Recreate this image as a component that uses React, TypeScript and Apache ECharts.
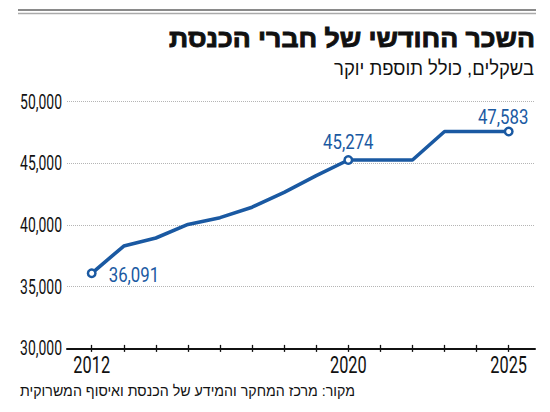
import React, { useEffect, useRef } from "react";
import * as echarts from "echarts";

const years = [2012, 2013, 2014, 2015, 2016, 2017, 2018, 2019, 2020, 2021, 2022, 2023, 2024, 2025];
const salaries = [36091, 38300, 38950, 40050, 40600, 41450, 42650, 44000, 45274, 45274, 45274, 47583, 47583, 47583];
const highlightYears = [2012, 2020, 2025];
const xLabelYears = [2012, 2020, 2025];
const yTicks = [30000, 35000, 40000, 45000, 50000];

const title = "השכר החודשי של חברי הכנסת";
const subtitle = "בשקלים, כולל תוספת יוקר";
const source = "מקור: מרכז המחקר והמידע של הכנסת ואיסוף המשרוקית";

const BLUE = "#1a59a2";
const DIGITS = "Roboto, 'Liberation Sans', sans-serif";
const HEB = "'Liberation Sans', 'DejaVu Sans', sans-serif";
const X_MIN = 2011.23;
const X_MAX = 2025.82;

const fmt = (v: number) => v.toLocaleString("en-US");

export default function App() {
  const ref = useRef<HTMLDivElement>(null);
  useEffect(() => {
    if (!ref.current) return;
    document.body.style.margin = "0";
    const chart = echarts.init(ref.current, undefined, { renderer: "svg" });
    const ctx = document.createElement("canvas").getContext("2d")!;
    const measure = (text: string, font: string) => {
      ctx.font = font;
      return ctx.measureText(text).width;
    };

    chart.setOption({
      animation: false,
      grid: { left: 67, right: 15, top: 101.7, bottom: 63.6 },
      xAxis: [
        {
          type: "value",
          min: X_MIN,
          max: X_MAX,
          axisLine: { show: true, lineStyle: { color: "#111", width: 2 } },
          axisTick: { show: true, customValues: years, length: 3.5, lineStyle: { color: "#111", width: 1.3 } },
          axisLabel: { show: false },
          splitLine: { show: false },
        },
        {
          type: "value",
          position: "bottom",
          min: X_MIN,
          max: X_MAX,
          axisLine: { show: false },
          axisTick: { show: true, inside: true, customValues: years, length: 3.5, lineStyle: { color: "#111", width: 1.3 } },
          axisLabel: { show: false },
          splitLine: { show: false },
        },
      ],
      yAxis: {
        type: "value",
        min: yTicks[0],
        max: yTicks[yTicks.length - 1],
        interval: 5000,
        axisLine: { show: false },
        axisTick: { show: false },
        axisLabel: { show: false },
        splitLine: { show: true, lineStyle: { color: "#b5b5b5", type: [1, 1], width: 1 } },
      },
      series: [
        {
          type: "line",
          data: years.map((y, i) => [y, salaries[i]]),
          symbol: "none",
          lineStyle: { color: BLUE, width: 3.6 },
          z: 2,
        },
        {
          type: "scatter",
          data: highlightYears.map((y) => [y, salaries[years.indexOf(y)]]),
          symbol: "circle",
          symbolSize: 7.5,
          itemStyle: { color: "#fff", borderColor: BLUE, borderWidth: 2.5, opacity: 1 },
          z: 3,
        },
      ],
    });

    const px = (x: number, y: number) => chart.convertToPixel({ gridIndex: 0 }, [x, y]) as number[];

    const yFont = `19.5px ${DIGITS}`;
    const ySx = 42 / measure("50,000", yFont);
    const xFont = `23px ${DIGITS}`;
    const xSx = 36.7 / measure("2012", xFont);
    const dFont = `20.5px ${DIGITS}`;
    const dSx = 50.5 / measure("45,274", dFont);
    const tFont = `bold 25px ${HEB}`;
    const tSx = 366 / measure(title, tFont);
    const sFont = `19.5px ${HEB}`;
    const sSx = 200 / measure(subtitle, sFont);
    const srcFont = `15px ${HEB}`;
    const srcSx = 335 / measure(source, srcFont);

    const graphics: any[] = [
      { type: "line", shape: { x1: 18, y1: 10, x2: 536, y2: 10 }, style: { stroke: "#8a8a8a", lineWidth: 2 } },
      { type: "line", shape: { x1: 18, y1: 13.5, x2: 536, y2: 13.5 }, style: { stroke: "#aaaaaa", lineWidth: 1.5 } },
      {
        type: "text", x: 535, y: 38, scaleX: tSx,
        style: { text: title, font: tFont, fill: "#111", stroke: "#111", lineWidth: 0.9, align: "right", verticalAlign: "middle" },
      },
      { type: "text", x: 534, y: 68.5, scaleX: sSx, style: { text: subtitle, font: sFont, fill: "#111", align: "right", verticalAlign: "middle" } },
      { type: "text", x: 355, y: 390.5, scaleX: srcSx, style: { text: source, font: srcFont, fill: "#111", align: "right", verticalAlign: "middle" } },
    ];

    yTicks.forEach((v) => {
      const p = px(X_MIN, v);
      graphics.push({
        type: "text", x: 62, y: p[1], scaleX: ySx,
        style: { text: fmt(v), font: yFont, fill: "#111", align: "right", verticalAlign: "middle" },
      });
    });
    xLabelYears.forEach((yr) => {
      const p = px(yr, yTicks[0]);
      graphics.push({
        type: "text", x: p[0], y: p[1] + 17.5, scaleX: xSx,
        style: { text: String(yr), font: xFont, fill: "#111", align: "center", verticalAlign: "middle" },
      });
    });
    highlightYears.forEach((yr, k) => {
      const v = salaries[years.indexOf(yr)];
      const p = px(yr, v);
      let g: any;
      if (k === 0) {
        g = { x: p[0] + 17, y: p[1] + 2, align: "left" };
      } else if (k === highlightYears.length - 1) {
        g = { x: p[0] - 5.6, y: p[1] - 14.5, align: "center" };
      } else {
        g = { x: p[0], y: p[1] - 18, align: "center" };
      }
      graphics.push({
        type: "text", x: g.x, y: g.y, scaleX: dSx, z: 10,
        style: { text: fmt(v), font: dFont, fill: BLUE, align: g.align, verticalAlign: "middle" },
      });
    });

    chart.setOption({ graphic: graphics });
    return () => chart.dispose();
  }, []);
  return <div ref={ref} style={{ width: 550, height: 412 }} />;
}
